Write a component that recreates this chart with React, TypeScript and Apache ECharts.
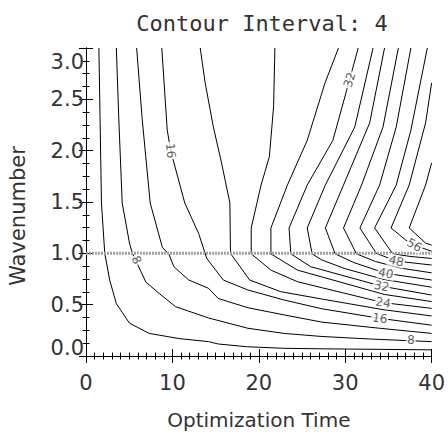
import React, { useEffect, useRef } from 'react';
import * as echarts from 'echarts';

// ---- data ----
const chartTitle = 'Contour Interval: 4';
const xName = 'Optimization Time';
const yName = 'Wavenumber';
const xRange = [0, 40];
const yRange = [0, 3];
const xStep = 10;
const yStep = 0.5;

const contourLevels = [4, 8, 12, 16, 20, 24, 28, 32, 36, 40, 44, 48, 52, 56, 60];

const contour4 = [[1.49, 3.0], [1.63, 2.3], [1.79, 1.49], [2.17, 1.0], [2.74, 0.74], [3.51, 0.51], [5.03, 0.32], [7.31, 0.22], [10.74, 0.17], [14.17, 0.14], [15.3, 0.117], [18.7, 0.09], [22.9, 0.075], [27.3, 0.07], [40, 0.06]];
const contour8 = [[3.51, 3.0], [3.8, 2.3], [4.19, 1.49], [5.03, 1.1], [5.37, 1.0], [6.37, 0.82], [6.93, 0.72], [8.46, 0.61], [10.37, 0.48], [14.2, 0.37], [18.74, 0.27], [22.94, 0.22], [27.3, 0.19], [33, 0.165], [40, 0.14]];
const contour12 = [[5.86, 3.0], [6.51, 2.3], [7.43, 1.49], [8.83, 1.06], [9.6, 0.99], [10.17, 0.87], [11.89, 0.74], [14.17, 0.66], [15.31, 0.56], [18.74, 0.47], [22.94, 0.4], [27.3, 0.33], [34, 0.27], [40, 0.22]];
const contour16 = [[8.77, 3.0], [9.4, 2.2], [9.8, 2.0], [11.43, 1.49], [13.03, 1.195], [13.98, 0.95], [15.89, 0.74], [18.74, 0.643], [22.94, 0.545], [27.3, 0.46], [34, 0.367], [40, 0.3]];
const contour20 = [[13.22, 3.0], [13.79, 2.66], [14.74, 2.23], [15.69, 1.88], [16.65, 1.49], [16.72, 1.0], [18.94, 0.74], [22.55, 0.626], [27.3, 0.555], [34.5, 0.45], [40, 0.39]];
const contour24 = [[21.86, 3.0], [21.71, 2.43], [21.22, 1.94], [20.26, 1.665], [19.12, 1.247], [19.12, 0.995], [21.4, 0.837], [24.46, 0.724], [27.3, 0.665], [34.4, 0.52], [40, 0.464]];
const contour28 = [[29.22, 3.0], [27.66, 2.66], [25.6, 2.1], [23.31, 1.665], [21.4, 1.247], [21.4, 0.995], [24.46, 0.837], [27.3, 0.77], [34.5, 0.6], [40, 0.53]];
const contour32 = [[31.5, 3.0], [30.5, 2.69], [28.57, 2.1], [25.6, 1.665], [23.5, 1.247], [23.7, 0.995], [26, 0.87], [27.3, 0.84], [34.2, 0.68], [40, 0.594]];
const contour36 = [[33.22, 3.0], [31.1, 2.23], [27.7, 1.665], [25.6, 1.247], [26.17, 0.995], [27.3, 0.935], [30, 0.85], [34.5, 0.745], [40, 0.67]];
const contour40 = [[34.55, 3.0], [32.83, 2.27], [29.8, 1.665], [27.7, 1.247], [28.83, 0.995], [31, 0.91], [34.7, 0.805], [40, 0.74]];
const contour44 = [[36.15, 3.0], [34.37, 2.23], [31.89, 1.665], [29.8, 1.247], [31.3, 0.995], [33.5, 0.92], [36.5, 0.855], [40, 0.81]];
const contour48 = [[37.6, 3.0], [35.9, 2.23], [33.98, 1.665], [31.7, 1.247], [33.6, 1.0], [35.9, 0.925], [40, 0.886]];
const contour52 = [[39.5, 3.0], [37.6, 2.2], [35.9, 1.665], [33.4, 1.247], [35.5, 0.995], [37.5, 0.97], [40, 0.95]];
const contour56 = [[40, 2.66], [39.3, 2.27], [37.4, 1.665], [35.3, 1.247], [37.0, 1.13], [38.0, 1.08], [40, 1.02]];
const contour60 = [[40, 1.88], [39.3, 1.665], [37.4, 1.247], [39.3, 1.1], [40, 1.08]];

const contourLines = [contour4, contour8, contour12, contour16, contour20, contour24, contour28, contour32, contour36, contour40, contour44, contour48, contour52, contour56, contour60];

const labelTexts = ['16', '32', '8', '8', '16', '24', '32', '40', '48', '56'];
const labelPoints = [[9.8, 2.0], [30.5, 2.69], [5.83, 0.935], [37.6, 0.156], [34, 0.367], [34.4, 0.52], [34.2, 0.68], [34.7, 0.805], [35.9, 0.925], [38.0, 1.08]];
const labelAngles = [-85, 74, -65, -2, -8, -10, -12, -12, -13, -30];

const referenceK = 1.0;

const FONT = '"DejaVu Sans", sans-serif';
const TITLE_FONT = '"DejaVu Sans Mono", monospace';
const TEXT_COLOR = '#333';

export default function App() {
  const ref = useRef<HTMLDivElement>(null);

  useEffect(() => {
    if (!ref.current) return;
    const chart = echarts.init(ref.current, null, { renderer: 'svg' });

    const axisCommon = {
      type: 'value' as const,
      axisLine: { show: true, lineStyle: { color: '#000', width: 1 } },
      splitLine: { show: false },
    };

    const lineSeries = contourLines.map((pts, i) => ({
      name: 'level ' + contourLevels[i],
      type: 'line' as const,
      data: pts,
      xAxisIndex: 0,
      yAxisIndex: 0,
      symbol: 'none',
      smooth: false,
      silent: true,
      z: 2,
      lineStyle: { color: '#000', width: 1 },
    }));

    chart.setOption({
      animation: false,
      backgroundColor: '#fff',
      title: {
        text: chartTitle,
        left: 257,
        top: 7,
        textAlign: 'center',
        textStyle: { fontFamily: TITLE_FONT, fontSize: 22, fontWeight: 'normal', color: TEXT_COLOR },
      },
      grid: { left: 86, right: 12, top: 48, bottom: 79 },
      xAxis: [
        {
          ...axisCommon,
          position: 'bottom',
          min: xRange[0],
          max: xRange[1],
          interval: xStep,
          axisTick: { show: true, inside: true, length: 7, lineStyle: { color: '#000' } },
          minorTick: { show: true, splitNumber: 10, length: 3.5, lineStyle: { color: '#000' } },
          axisLabel: { fontFamily: FONT, fontSize: 21, color: TEXT_COLOR, margin: 16 },
          name: xName,
          nameLocation: 'middle',
          nameGap: 54,
          nameTextStyle: { fontFamily: FONT, fontSize: 20, color: TEXT_COLOR },
        },
        {
          ...axisCommon,
          position: 'top',
          min: xRange[0],
          max: xRange[1],
          interval: xStep,
          axisTick: { show: true, inside: true, length: 7, lineStyle: { color: '#000' } },
          minorTick: { show: true, splitNumber: 10, length: 3.5, lineStyle: { color: '#000' } },
          axisLabel: { show: false },
        },
      ],
      yAxis: [
        {
          ...axisCommon,
          position: 'left',
          min: yRange[0],
          max: yRange[1],
          interval: yStep,
          axisTick: { show: true, inside: true, length: 7, lineStyle: { color: '#000' } },
          minorTick: { show: true, splitNumber: 4, length: 3.5, lineStyle: { color: '#000' } },
          axisLabel: {
            fontFamily: FONT,
            fontSize: 21,
            color: TEXT_COLOR,
            margin: 2,
            formatter: (v: number) => {
              const s = v.toFixed(1);
              if (v === yRange[1]) return '{hi|' + s + '}';
              if (v === yRange[0]) return '{lo|' + s + '}';
              return s;
            },
            rich: {
              hi: { lineHeight: 28, fontSize: 21, fontFamily: FONT, color: TEXT_COLOR },
              lo: { lineHeight: 16, fontSize: 21, fontFamily: FONT, color: TEXT_COLOR },
            },
            verticalAlignMinLabel: 'bottom',
            verticalAlignMaxLabel: 'top',
          },
        },
        {
          ...axisCommon,
          position: 'right',
          min: yRange[0],
          max: yRange[1],
          interval: yStep,
          axisTick: { show: true, inside: true, length: 7, lineStyle: { color: '#000' } },
          minorTick: { show: true, splitNumber: 4, length: 3.5, lineStyle: { color: '#000' } },
          axisLabel: { show: false },
        },
      ],
      graphic: [
        {
          type: 'text',
          x: 18,
          y: 216,
          rotation: Math.PI / 2,
          style: {
            text: yName,
            align: 'center',
            verticalAlign: 'middle',
            fontFamily: FONT,
            fontSize: 21,
            fill: TEXT_COLOR,
          },
        },
      ],
      series: [
        ...lineSeries,
        {
          name: 'reference',
          type: 'line',
          data: [[xRange[0], referenceK], [xRange[1], referenceK]],
          symbol: 'none',
          silent: true,
          z: 4,
          lineStyle: { color: '#a0a0a0', width: 3, type: [2, 1] },
        },
        {
          name: 'labels',
          type: 'scatter',
          symbolSize: 1,
          itemStyle: { color: 'rgba(0,0,0,0)' },
          silent: true,
          z: 5,
          data: labelPoints.map((p, i) => ({
            value: p,
            label: { rotate: labelAngles[i], formatter: labelTexts[i] },
          })),
          label: {
            show: true,
            position: 'inside',
            fontFamily: FONT,
            fontSize: 12,
            color: TEXT_COLOR,
            backgroundColor: '#fff',
            padding: [0, 1],
          },
        },
      ],
    });

    return () => chart.dispose();
  }, []);

  return (
    <div
      ref={ref}
      style={{ position: 'fixed', left: 0, top: 0, width: 448, height: 435 }}
    />
  );
}
